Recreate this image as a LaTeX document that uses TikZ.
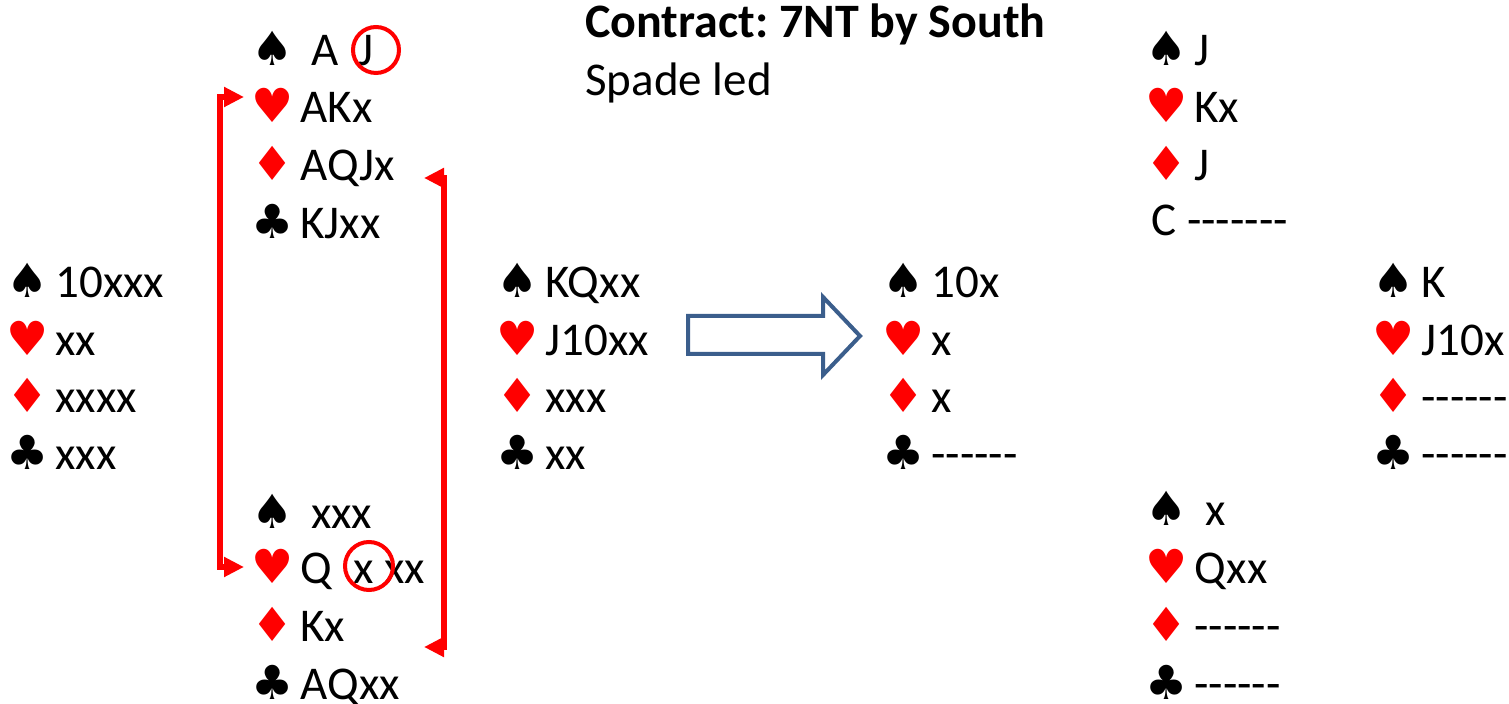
\documentclass[tikz,border=0pt]{standalone}
\usepackage{fontspec}
\setmainfont{Carlito}[Ligatures=TeXOff]
\newfontfamily\suitfont{DejaVu Sans}
\usetikzlibrary{arrows.meta}
\definecolor{arrowblue}{HTML}{3B5E8C}
\frenchspacing
\newcommand{\suitbox}[2]{\makebox[15pt][c]{\suitfont\color{#1}#2}\hspace{6.5pt}}
\newcommand{\spd}{\suitbox{black}{♠}}
\newcommand{\hrt}{\suitbox{red}{♥}}
\newcommand{\dmd}{\suitbox{red}{♦}}
\newcommand{\clb}{\suitbox{black}{♣}}

\begin{document}
\begin{tikzpicture}[x=0.5pt,y=-0.5pt,
  row/.style={anchor=base west, inner sep=0pt, font=\fontsize{23.5}{28}\selectfont},
  title/.style={anchor=base west, inner sep=0pt, font=\fontsize{24}{28}\selectfont\bfseries},
  bracket/.style={red, line width=2.8pt, {Triangle[length=10pt,width=9.5pt]}-{Triangle[length=10pt,width=9.5pt]}},
  ring/.style={red, line width=2pt}]
\useasboundingbox (0,0) rectangle (1509,704);

% header
\node[title] (contract) at (585,38) {Contract: 7NT by South};
\node[row] (lead) at (585,96) {Spade led};

% full deal: West
\node[row] (ws) at (12,298) {\spd 10xxx};
\node[row] (wh) at (12,356) {\hrt xx};
\node[row] (wd) at (12,413) {\dmd xxxx};
\node[row] (wc) at (12,470) {\clb xxx};
% North
\node[row] (ns) at (257,66) {\spd\ A\ \hspace{5pt}J};
\node[row] (nh) at (257,123) {\hrt AKx};
\node[row] (nd) at (257,181) {\dmd AQJx};
\node[row] (nc) at (257,239) {\clb KJxx};
% East
\node[row] (es) at (502,298) {\spd KQxx};
\node[row] (eh) at (502,356) {\hrt J10xx};
\node[row] (ed) at (502,413) {\dmd xxx};
\node[row] (ec) at (502,470) {\clb xx};
% South
\node[row] (ss) at (257,529) {\spd\ xxx};
\node[row] (sh) at (257,584) {\hrt Q\ \ x xx};
\node[row] (sd) at (257,642) {\dmd Kx};
\node[row] (sc) at (257,699) {\clb AQxx};

% circled cards
\draw[ring] (376,50) circle [radius=11.5pt];
\draw[ring] (369,566) circle [radius=12pt];

% red brackets
\coordinate (htop) at (244,97);
\coordinate (hbot) at (244,567);
\coordinate (dtop) at (424,178);
\coordinate (dbot) at (424,647);
\draw[bracket] (htop) -- (220,97) -- (220,567) -- (hbot);
\draw[bracket] (dtop) -- (444,178) -- (444,647) -- (dbot);

% block arrow
\draw[arrowblue, line width=2pt, line join=miter, fill=white]
  (688,316) -- (823,316) -- (823,297) -- (860,336) -- (823,375)
  -- (823,354) -- (688,354) -- cycle;

% end position: West
\node[row] (w2s) at (888,298) {\spd 10x};
\node[row] (w2h) at (888,356) {\hrt x};
\node[row] (w2d) at (888,413) {\dmd x};
\node[row] (w2c) at (888,470) {\clb ------};
% North
\node[row] (n2s) at (1151,66) {\spd J};
\node[row] (n2h) at (1151,123) {\hrt Kx};
\node[row] (n2d) at (1151,181) {\dmd J};
\node[row] (n2c) at (1151,236) {C -------};
% East
\node[row] (e2s) at (1378,298) {\spd K};
\node[row] (e2h) at (1378,356) {\hrt J10x};
\node[row] (e2d) at (1378,413) {\dmd ------};
\node[row] (e2c) at (1378,470) {\clb ------};
% South
\node[row] (s2s) at (1151,526) {\spd\ x};
\node[row] (s2h) at (1151,584) {\hrt Qxx};
\node[row] (s2d) at (1151,642) {\dmd ------};
\node[row] (s2c) at (1151,699) {\clb ------};
\end{tikzpicture}
\end{document}
